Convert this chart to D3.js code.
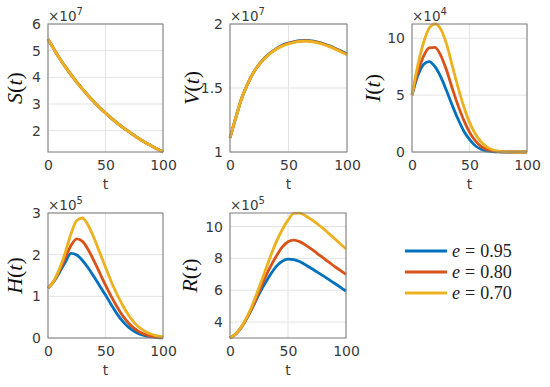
<!DOCTYPE html>
<html><head><meta charset="utf-8">
<script src="https://cdn.jsdelivr.net/npm/d3@7"></script>
<style>body{margin:0;background:#fff}</style>
</head><body><svg id="c" width="550" height="387"></svg>
<script>
// ---------- data ----------
const tValues = [0,5,10,15,20,25,30,35,40,45,50,55,60,65,70,75,80,85,90,95,100];
const eLabels = ["0.95","0.80","0.70"];
const colors = ["#0072BD","#D95319","#EDB120"];

// S(t) x 1e7
const S_095 = [5.43,5.07,4.72,4.40,4.10,3.82,3.56,3.31,3.08,2.86,2.66,2.47,2.29,2.12,1.97,1.82,1.68,1.55,1.43,1.31,1.20];
const S_080 = [5.43,5.07,4.72,4.40,4.10,3.82,3.56,3.31,3.08,2.86,2.66,2.47,2.29,2.12,1.97,1.82,1.68,1.55,1.43,1.31,1.20];
const S_070 = [5.43,5.07,4.72,4.40,4.10,3.82,3.56,3.31,3.08,2.86,2.66,2.47,2.29,2.12,1.97,1.82,1.68,1.55,1.43,1.31,1.20];
// V(t) x 1e7
const V_095 = [1.11,1.27,1.42,1.53,1.62,1.686,1.738,1.779,1.810,1.835,1.851,1.863,1.870,1.872,1.868,1.859,1.846,1.829,1.809,1.788,1.766];
const V_080 = [1.11,1.27,1.42,1.53,1.62,1.685,1.736,1.777,1.808,1.832,1.848,1.860,1.867,1.869,1.865,1.856,1.843,1.826,1.806,1.785,1.763];
const V_070 = [1.11,1.27,1.42,1.53,1.62,1.684,1.734,1.775,1.805,1.829,1.845,1.857,1.864,1.866,1.862,1.853,1.840,1.823,1.803,1.782,1.760];
// I(t) x 1e4
const I_095 = [5,6.7,7.7,7.95,7.5,6.6,5.4,4.1,2.9,1.85,1.1,0.55,0.25,0.1,0.04,0.01,0,0,0,0,0];
const I_080 = [5,7.0,8.4,9.15,9.2,8.5,7.2,5.6,4.1,2.8,1.75,1.0,0.5,0.23,0.1,0.04,0.015,0,0,0,0];
const I_070 = [5,7.6,9.6,10.9,11.25,10.8,9.5,7.6,5.7,4.0,2.6,1.6,0.9,0.45,0.2,0.08,0.03,0.01,0,0,0];
// H(t) x 1e5
const H_095 = [1.2,1.35,1.58,1.82,2.03,1.99,1.86,1.68,1.47,1.25,1.03,0.8,0.58,0.4,0.26,0.16,0.09,0.05,0.025,0.01,0.005];
const H_080 = [1.2,1.36,1.62,1.92,2.22,2.38,2.32,2.12,1.85,1.56,1.27,1.0,0.75,0.53,0.36,0.23,0.14,0.08,0.04,0.02,0.01];
const H_070 = [1.2,1.37,1.66,2.05,2.5,2.82,2.88,2.7,2.4,2.05,1.7,1.35,1.05,0.78,0.55,0.37,0.24,0.15,0.09,0.05,0.03];
// R(t) x 1e5
const R_095 = [3.0,3.25,3.7,4.3,5.0,5.75,6.4,7.0,7.5,7.82,7.95,7.92,7.8,7.6,7.38,7.15,6.92,6.68,6.44,6.2,5.95];
const R_080 = [3.0,3.25,3.7,4.32,5.05,5.9,6.75,7.5,8.15,8.7,9.05,9.15,9.05,8.85,8.6,8.32,8.05,7.78,7.5,7.25,7.0];
const R_070 = [3.0,3.25,3.72,4.38,5.2,6.15,7.15,8.15,9.05,9.8,10.4,10.82,10.84,10.68,10.45,10.18,9.9,9.57,9.25,8.92,8.6];

// ticks
const xTicks = [0,50,100];
const S_ticks = [2,3,4,5,6];
const V_ticks = [1,1.5,2];
const I_ticks = [0,5,10];
const H_ticks = [0,1,2,3];
const R_ticks = [4,6,8,10];

// ---------- layout ----------
const panels = [
  {v:"S", series:[S_095,S_080,S_070], ticks:S_ticks, dom:[1.2,6], exp:"7", x0:48, x1:163, y0:24, y1:152, lab:34},
  {v:"V", series:[V_095,V_080,V_070], ticks:V_ticks, dom:[1,2], exp:"7", x0:230, x1:347, y0:24, y1:152, lab:39},
  {v:"I", series:[I_095,I_080,I_070], ticks:I_ticks, dom:[0,11.25], exp:"4", x0:412, x1:527, y0:24, y1:152, lab:40},
  {v:"H", series:[H_095,H_080,H_070], ticks:H_ticks, dom:[0,3], exp:"5", x0:48, x1:163, y0:213, y1:338, lab:34},
  {v:"R", series:[R_095,R_080,R_070], ticks:R_ticks, dom:[3,10.85], exp:"5", x0:230, x1:346, y0:213, y1:338, lab:41}
];

const svg = d3.select("#c");
const tickFont = "'DejaVu Sans', sans-serif";
const serif = "'Liberation Serif','Times New Roman',serif";

panels.forEach(p => {
  const x = d3.scaleLinear().domain([0,100]).range([p.x0,p.x1]);
  const y = d3.scaleLinear().domain(p.dom).range([p.y1,p.y0]);
  const g = svg.append("g");
  // grid
  g.selectAll(".gx").data(xTicks).join("line")
    .attr("x1", d=>x(d)).attr("x2", d=>x(d)).attr("y1", p.y0).attr("y2", p.y1)
    .attr("stroke", "#e3e3e3").attr("stroke-width", 1);
  g.selectAll(".gy").data(p.ticks).join("line")
    .attr("x1", p.x0).attr("x2", p.x1).attr("y1", d=>y(d)).attr("y2", d=>y(d))
    .attr("stroke", "#e3e3e3").attr("stroke-width", 1);
  // axes labels
  const ax = g.append("g").attr("transform", `translate(0,${p.y1})`)
    .call(d3.axisBottom(x).tickValues(xTicks).tickSize(0).tickPadding(8).tickFormat(d3.format("d")));
  const ay = g.append("g").attr("transform", `translate(${p.x0},0)`)
    .call(d3.axisLeft(y).tickValues(p.ticks).tickSize(0).tickPadding(7).tickFormat(d=>String(d)));
  [ax, ay].forEach(a => {
    a.select(".domain").remove();
    a.selectAll("text").attr("font-family", tickFont).attr("font-size", 14).attr("fill", "#3a3a3a");
  });
  // lines
  const line = d3.line().x((d,i)=>x(tValues[i])).y(d=>y(d)).curve(d3.curveMonotoneX);
  p.series.forEach((s, k) => {
    g.append("path").datum(s).attr("d", line).attr("fill", "none")
      .attr("stroke", colors[k]).attr("stroke-width", 2.8).attr("stroke-linejoin", "round");
  });
  // box
  g.append("rect").attr("x", p.x0).attr("y", p.y0).attr("width", p.x1-p.x0).attr("height", p.y1-p.y0)
    .attr("fill", "none").attr("stroke", "#7a7a7a").attr("stroke-width", 1);
  // x label
  g.append("text").attr("x", (p.x0+p.x1)/2).attr("y", p.y1+37).attr("text-anchor", "middle")
    .attr("font-family", tickFont).attr("font-size", 14).attr("fill", "#3a3a3a").text("t");
  // exponent
  const ex = g.append("text").attr("x", p.x0).attr("y", p.y0-3)
    .attr("font-family", tickFont).attr("font-size", 13.5).attr("fill", "#3a3a3a");
  ex.append("tspan").text("\u00d710");
  ex.append("tspan").attr("font-size", 10).attr("dy", -6).text(p.exp);
  // y label
  const cy = (p.y0+p.y1)/2;
  const yl = g.append("text").attr("transform", `translate(${p.x0-p.lab},${cy}) rotate(-90)`)
    .attr("text-anchor", "middle").attr("dy", "0.35em")
    .attr("font-family", serif).attr("font-size", 22).attr("fill", "#111");
  yl.append("tspan").attr("font-style", "italic").text(p.v);
  yl.append("tspan").text("(");
  yl.append("tspan").attr("font-style", "italic").text("t");
  yl.append("tspan").text(")");
});

// legend
const lg = svg.append("g");
eLabels.forEach((e, k) => {
  const yy = 251 + k*21;
  lg.append("line").attr("x1", 405).attr("x2", 447).attr("y1", yy).attr("y2", yy)
    .attr("stroke", colors[k]).attr("stroke-width", 2.8);
  const tx = lg.append("text").attr("x", 452).attr("y", yy).attr("dy", "0.35em")
    .attr("font-family", serif).attr("font-size", 18).attr("fill", "#222");
  tx.append("tspan").attr("font-style", "italic").text("e");
  tx.append("tspan").attr("dx", 5).text("=");
  tx.append("tspan").attr("dx", 5).text(e);
});
</script></body></html>
